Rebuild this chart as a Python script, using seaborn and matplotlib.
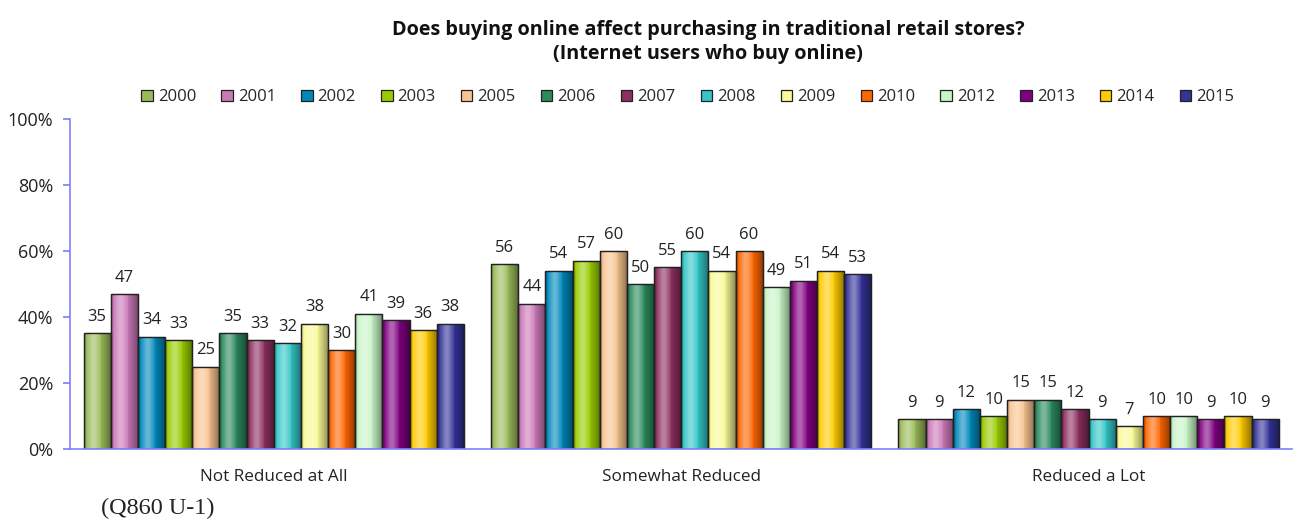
import matplotlib
matplotlib.use("Agg")
import matplotlib.pyplot as plt
import seaborn as sns
import pandas as pd
import numpy as np
from matplotlib.ticker import FuncFormatter
from matplotlib.patches import Rectangle

categories = ["Not Reduced at All", "Somewhat Reduced", "Reduced a Lot"]
years = ["2000", "2001", "2002", "2003", "2005", "2006", "2007",
         "2008", "2009", "2010", "2012", "2013", "2014", "2015"]
not_reduced = [35, 47, 34, 33, 25, 35, 33, 32, 38, 30, 41, 39, 36, 38]
somewhat_reduced = [56, 44, 54, 57, 60, 50, 55, 60, 54, 60, 49, 51, 54, 53]
reduced_lot = [9, 9, 12, 10, 15, 15, 12, 9, 7, 10, 10, 9, 10, 9]
colors = ["#9BBB59", "#CC79B8", "#0088BB", "#99CC00", "#F8C490", "#2A8A5C", "#8E2F60",
          "#33C6C6", "#FAFA96", "#FF6600", "#C8F5C8", "#800080", "#FFCC00", "#333399"]

rows = []
for cat, vals in zip(categories, [not_reduced, somewhat_reduced, reduced_lot]):
    for y, v in zip(years, vals):
        rows.append({"category": cat, "year": y, "value": v})
df = pd.DataFrame(rows)

sns.set_theme(style="white")
plt.rcParams["font.family"] = ["Open Sans", "DejaVu Sans"]

fig = plt.figure(figsize=(12.95, 5.21), dpi=100)
ax = fig.add_axes([0.054, 0.138, 0.944, 0.634])

sns.barplot(data=df, x="category", y="value", hue="year", order=categories,
            hue_order=years, palette=colors, width=14 / 15, dodge=True,
            edgecolor="#222222", linewidth=0.9, saturation=1, ax=ax, legend=True)

ax.set_ylim(0, 100)
ax.set_xlim(-0.5, 2.5)

# cylinder-like shading on each bar (styling only)
prof_x = np.linspace(0, 1, 64)
alpha_white = np.clip(0.4 * np.exp(-((prof_x - 0.35) / 0.2) ** 2), 0, 1)
alpha_black = np.clip(0.45 * np.clip((prof_x - 0.5) / 0.5, 0, 1) ** 1.3 + 0.12 * np.clip((0.2 - prof_x) / 0.2, 0, 1), 0, 1)
shade = np.zeros((1, 64, 4))
shade[..., :3] = np.where(alpha_white[:, None] > alpha_black[:, None], 1.0, 0.0)[None, :, :]
shade[..., 3] = np.maximum(alpha_white, alpha_black)[None, :]
for cont in ax.containers:
    for p in cont.patches:
        x0, y0 = p.get_x(), p.get_y()
        w, h = p.get_width(), p.get_height()
        if h <= 0:
            continue
        im = ax.imshow(shade, extent=(x0, x0 + w, y0, y0 + h), aspect="auto",
                       interpolation="bilinear", zorder=p.get_zorder() + 0.1)
        im.set_clip_path(p)
        ax.add_patch(Rectangle((x0, y0), w, h, fill=False, edgecolor="#222222",
                               linewidth=0.9, zorder=p.get_zorder() + 0.2))

for cont in ax.containers:
    ax.bar_label(cont, fmt="%d", padding=6, fontsize=12, color="#222222")

ax.set_ylim(0, 100)
ax.set_xlim(-0.5, 2.5)
ax.set_yticks([0, 20, 40, 60, 80, 100])
ax.yaxis.set_major_formatter(FuncFormatter(lambda v, p: f"{int(v)}%"))
ax.tick_params(axis="y", labelsize=13, length=5, color="#8080FF", left=True,
               pad=7, labelcolor="#222222")
ax.tick_params(axis="x", labelsize=12.3, length=0, pad=14, labelcolor="#222222")
ax.set_xlabel("")
ax.set_ylabel("")
for s in ["top", "right"]:
    ax.spines[s].set_visible(False)
for s in ["left", "bottom"]:
    ax.spines[s].set_color("#8080FF")
    ax.spines[s].set_linewidth(1.2)

handles, labels = ax.get_legend_handles_labels()
ax.legend(handles, labels, ncol=14, loc="center", bbox_to_anchor=(0.531, 0.813),
          bbox_transform=fig.transFigure, frameon=False, fontsize=12,
          handlelength=0.7, handleheight=0.7, handletextpad=0.3, columnspacing=1.5)

fig.text(0.547, 0.92, "Does buying online affect purchasing in traditional retail stores?\n(Internet users who buy online)",
         ha="center", va="center", fontsize=14.2, fontweight="bold", color="#111111",
         linespacing=1.25)
fig.text(0.078, 0.025, "(Q860 U-1)", ha="left", va="center", fontsize=17.5,
         family="Liberation Serif", color="#222222")

fig.savefig("out.png", dpi=100)
